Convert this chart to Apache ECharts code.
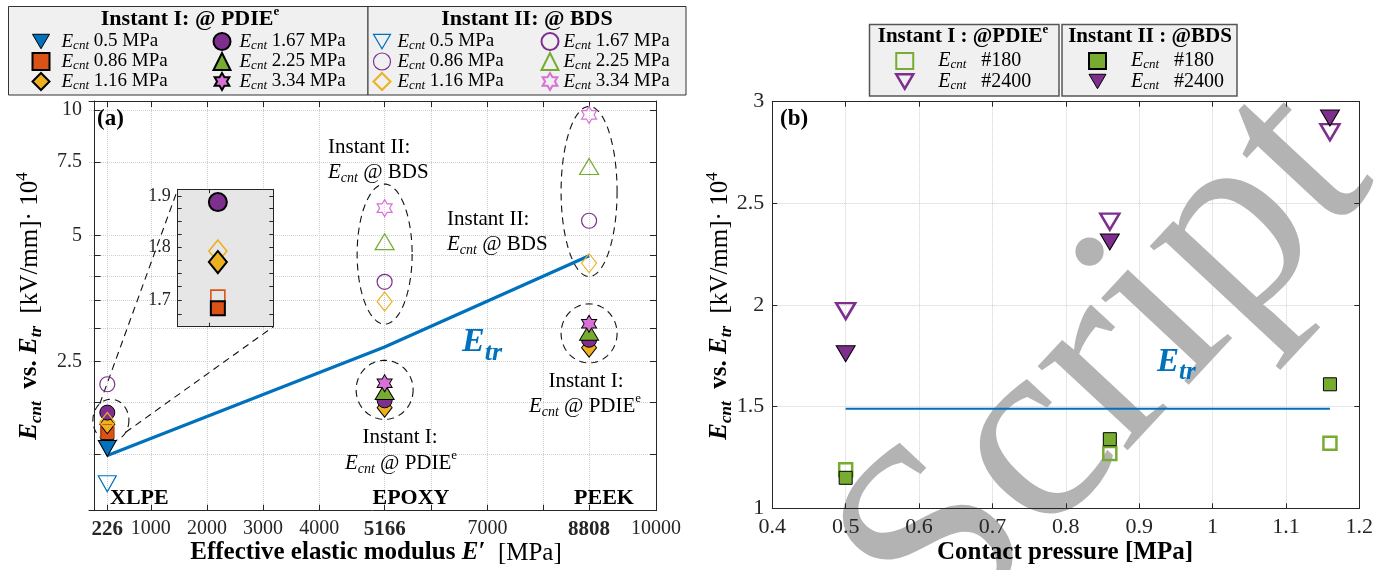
<!DOCTYPE html>
<html>
<head>
<meta charset="utf-8">
<title>Contact field vs. transition field</title>
<script src="https://cdn.jsdelivr.net/npm/echarts@6/dist/echarts.min.js"></script>
<style>
html, body { margin: 0; padding: 0; background: #ffffff; }
#chart { width: 1389px; height: 570px; }
</style>
</head>
<body>
<div id="chart"></div>
<script>
// ---------------- data ----------------
// (a) insulation materials and their effective elastic modulus E' [MPa]
const materials = ['XLPE', 'EPOXY', 'PEEK'];
const modulus = [226, 5166, 8808];
// transition field E_tr per material [kV/mm · 10^4]
const etrA = [1.49, 2.71, 4.48];
// contact pressures [MPa] of the legend entries
const pressures = ['0.5', '0.86', '1.16', '1.67', '2.25', '3.34'];
// Instant I (@ PDIE^e): E_cnt per material, null where not tested
const inst1_050 = [1.55, null, null];
const inst1_086 = [1.686, null, null];
const inst1_116 = [1.771, 1.94, 2.70];
const inst1_167 = [1.888, 2.02, 2.82];
const inst1_225 = [null, 2.12, 2.94];
const inst1_334 = [null, 2.22, 3.08];
// Instant II (@ BDS)
const inst2_050 = [1.276, null, null];
const inst2_086 = [1.706, null, null];
const inst2_116 = [1.792, 3.48, 4.30];
const inst2_167 = [2.207, 3.88, 5.43];
const inst2_225 = [null, 4.84, 7.32];
const inst2_334 = [null, 5.82, 9.73];
// ticks of (a)
const xTicksA = [226, 1000, 2000, 3000, 4000, 5166, 6000, 7000, 8000, 8808, 10000];
const xLabelsA = [226, 1000, 2000, 3000, 4000, 5166, 7000, 8808, 10000];
const xBoldA = [226, 5166, 8808];
const yTicksA = [1.5, 2, 2.5, 3, 3.5, 4, 4.5, 5, 7.5, 10];
const yLabelsA = [2.5, 5, 7.5, 10];
// ticks of the zoomed XLPE view
const yTicksZoom = [1.675, 1.7, 1.725, 1.75, 1.775, 1.8, 1.825, 1.85, 1.875, 1.9];
const yLabelsZoom = [1.7, 1.8, 1.9];

// (b) XLPE: E_cnt versus contact pressure [MPa]
const pressuresB = [0.5, 0.86, 1.16];
const b1_180 = [1.19, 1.27, 1.32];   // Instant I, #180
const b1_2400 = [1.97, 2.41, 2.85];  // Instant I, #2400
const b2_180 = [1.15, 1.34, 1.61];   // Instant II, #180
const b2_2400 = [1.76, 2.31, 2.92];  // Instant II, #2400
const etrB = 1.49;

// ---------------- styling ----------------
const SERIF = '"Liberation Serif", "DejaVu Serif", serif';
const INK = '#262626';
const C = { blue: '#0072BD', orange: '#D95319', yellow: '#EDB120', purple: '#7E2F8E', green: '#77AC30', pink: '#D870D8' };
const CLEAR = 'rgba(0,0,0,0)';
const GRID_LINE = { show: true, lineStyle: { type: 'dotted', color: '#cfcfcf', width: 1 } };
const DOWN_TRI = 'path://M0 0 L20 0 L10 17 Z';

// axis ranges
const A_X = [-100, 10000], A_Y = [1.1, 10.5];
const B_X = [0.4, 1.2], B_Y = [1, 3];
const Z_X = [100, 400], Z_Y = [1.653, 1.914];
const INSET = { left: 177.7, top: 189.3, width: 95.6, height: 137.4 };

// six-pointed star outline
function hexagram() {
  const p = [];
  for (let k = 0; k < 12; k++) {
    const r = k % 2 === 0 ? 1 : 0.5774;
    const a = (-90 + k * 30) * Math.PI / 180;
    p.push((r * Math.cos(a)).toFixed(4) + ' ' + (r * Math.sin(a)).toFixed(4));
  }
  return 'path://M' + p.join(' L') + ' Z';
}
const HEX = hexagram();

const markers = [
  { symbol: 'triangle', rotate: 180, size: [18, 16], zsize: [18, 16], color: C.blue },
  { symbol: 'rect', size: 13, zsize: 14, color: C.orange },
  { symbol: 'diamond', size: [15, 19], zsize: [18, 22], color: C.yellow },
  { symbol: 'circle', size: 15, zsize: 18, color: C.purple },
  { symbol: 'triangle', size: [19, 16], zsize: [19, 16], color: C.green },
  { symbol: HEX, size: [15, 17], zsize: [15, 17], color: C.pink }
];
const inst1 = [inst1_050, inst1_086, inst1_116, inst1_167, inst1_225, inst1_334];
const inst2 = [inst2_050, inst2_086, inst2_116, inst2_167, inst2_225, inst2_334];

function markerStyle(m, filled, zoomed) {
  return filled
    ? { color: m.color, borderColor: '#000', borderWidth: zoomed ? 2 : 1, opacity: 1 }
    : { color: CLEAR, borderColor: m.color, borderWidth: zoomed ? 1.6 : 1.2, opacity: 1 };
}

function scatterA(kind, idx, values) {
  const m = markers[idx];
  return {
    name: kind + ' ' + pressures[idx], type: 'scatter', xAxisIndex: 0, yAxisIndex: 0,
    data: modulus.map((x, i) => [x, values[i]]).filter(d => d[1] !== null),
    symbol: m.symbol, symbolSize: m.size, symbolRotate: m.rotate || 0,
    itemStyle: markerStyle(m, kind === 'I', false), z: 3, silent: true
  };
}

function scatterZoom(kind, idx, values) {
  const m = markers[idx];
  const v = values[0];
  const inRange = v !== null && v >= Z_Y[0] && v <= Z_Y[1];
  return {
    name: 'zoom ' + kind + ' ' + pressures[idx], type: 'scatter', xAxisIndex: 4, yAxisIndex: 5,
    data: inRange ? [[modulus[0], v]] : [],
    symbol: m.symbol, symbolSize: m.zsize, symbolRotate: m.rotate || 0,
    itemStyle: markerStyle(m, kind === 'I', true), z: 4, silent: true
  };
}

// dashed call-out ellipses (centre in data units, radii in px)
const calloutCenters = [[290, 1.81], [5166, 4.52], [5166, 2.14], [8808, 6.38], [8808, 2.92]];
const calloutRadii = [[18, 21], [27.5, 70], [28.5, 29.5], [28, 85], [28, 29.5]];

const lg = Math.log10;
function guideLabel(labels) {
  return v => {
    const t = labels.find(l => Math.abs(lg(l) - v) < 1e-6);
    return t === undefined ? '' : String(t);
  };
}
function logGuideAxis(grid, range, ticks, labels, position, fontSize, split, z, tickLen) {
  return {
    type: 'value', gridIndex: grid, position, min: lg(range[0]), max: lg(range[1]), z: z || 0,
    axisLine: { show: true, lineStyle: { color: INK, width: 1 } },
    axisTick: { show: true, inside: true, length: tickLen || 6, customValues: ticks.map(lg), lineStyle: { color: INK } },
    axisLabel: labels ? {
      show: true, customValues: labels.map(lg), formatter: guideLabel(labels), margin: 7,
      fontFamily: SERIF, fontSize: fontSize, color: INK
    } : { show: false },
    splitLine: split ? GRID_LINE : { show: false }
  };
}

// legend helpers
function legendText(name) {
  const parts = name.split(' ');
  const tail = parts[parts.length - 1];
  const v = tail.charAt(0) === '#' ? '   ' + tail : ' ' + tail + ' MPa';
  return '{e|E}{s|cnt}{v|' + v + '}';
}
function legendCol(data, left, top, pad, h, size, iw, ih) {
  return {
    data, orient: 'vertical', left, top, padding: 0, itemGap: 0,
    itemWidth: iw || 17, itemHeight: ih || 17, selectedMode: false, z: 6,
    formatter: legendText,
    textStyle: {
      fontFamily: SERIF, fontSize: size, color: '#000',
      rich: {
        e: { fontFamily: SERIF, fontSize: size, fontStyle: 'italic', color: '#000', lineHeight: h, padding: [0, 0, 0, pad] },
        s: { fontFamily: SERIF, fontSize: Math.round(size * 0.66), fontStyle: 'italic', color: '#000', lineHeight: 10, verticalAlign: 'bottom' },
        v: { fontFamily: SERIF, fontSize: size, color: '#000', lineHeight: h }
      }
    }
  };
}
function downIcon(name, style) {
  return { name, icon: DOWN_TRI, itemStyle: style };
}

// rich text styles for free-standing labels
function richSet(size, bold) {
  const w = bold ? 'bold' : 'normal';
  return {
    n: { fontFamily: SERIF, fontSize: size, fontWeight: w, fill: '#000', lineHeight: size + 6 },
    i: { fontFamily: SERIF, fontSize: size, fontWeight: w, fontStyle: 'italic', fill: '#000', lineHeight: size + 6 },
    s: { fontFamily: SERIF, fontSize: Math.round(size * 0.68), fontWeight: w, fontStyle: 'italic', fill: '#000', lineHeight: Math.round(size * 0.68), verticalAlign: 'bottom' },
    u: { fontFamily: SERIF, fontSize: Math.round(size * 0.6), fontWeight: w, fill: '#000', lineHeight: Math.round(size * 0.6), verticalAlign: 'top' },
    r: { fontFamily: SERIF, fontSize: size, fontWeight: 'normal', fill: '#000', lineHeight: size + 6 },
    ru: { fontFamily: SERIF, fontSize: Math.round(size * 0.68), fontWeight: 'normal', fill: '#000', lineHeight: Math.round(size * 0.68), verticalAlign: 'top' }
  };
}
function label(x, y, text, size, bold, align, extra) {
  return Object.assign({
    type: 'text', x, y, z: 7, silent: true,
    style: {
      text, rich: richSet(size, bold), fill: '#000',
      font: (bold ? 'bold ' : '') + size + 'px ' + SERIF,
      align: align || 'left', textAlign: align || 'left',
      verticalAlign: 'middle', textVerticalAlign: 'middle'
    }
  }, extra || {});
}
function etrLabel(x, y, eSize, tSize) {
  return {
    type: 'text', x, y, z: 7, silent: true,
    style: {
      text: '{E|E}{t|tr}', align: 'left', verticalAlign: 'middle', textAlign: 'left', textVerticalAlign: 'middle',
      rich: {
        E: { fontFamily: SERIF, fontSize: eSize, fontWeight: 'bold', fontStyle: 'italic', fill: C.blue, lineHeight: eSize + 14 },
        t: { fontFamily: SERIF, fontSize: tSize, fontWeight: 'bold', fontStyle: 'italic', fill: C.blue, lineHeight: tSize, verticalAlign: 'bottom' }
      }
    }
  };
}

const yTitle = '{i|E}{s|cnt}{n|  vs. }{i|E}{s|tr}{r|  [kV/mm]· 10}{ru|4}';

const graphics = [
  // watermark lettering behind panel (b)
  {
    type: 'text', x: 1108, y: 368, rotation: 47 * Math.PI / 180, z: 1, silent: true,
    style: { text: 'Script', font: '268px ' + SERIF, fill: '#b3b3b3', align: 'center', verticalAlign: 'middle', textAlign: 'center', textVerticalAlign: 'middle' }
  },
  // legend frames of (a)
  { type: 'rect', z: 5, silent: true, shape: { x: 8.5, y: 6.5, width: 359.5, height: 88.5 }, style: { fill: '#f0f0f0', stroke: '#333', lineWidth: 1 } },
  { type: 'rect', z: 5, silent: true, shape: { x: 368, y: 6.5, width: 318, height: 88.5 }, style: { fill: '#f0f0f0', stroke: '#333', lineWidth: 1 } },
  label(190, 19, '{n|Instant I: @ PDIE}{u|e}', 22, true, 'center'),
  label(527, 19, '{n|Instant II: @ BDS}', 22, true, 'center'),
  // legend frames of (b)
  { type: 'rect', z: 5, silent: true, shape: { x: 869.5, y: 24.5, width: 189.5, height: 71.5 }, style: { fill: '#f0f0f0', stroke: '#555', lineWidth: 1.5 } },
  { type: 'rect', z: 5, silent: true, shape: { x: 1062, y: 24.5, width: 175, height: 71.5 }, style: { fill: '#f0f0f0', stroke: '#555', lineWidth: 1.5 } },
  label(963, 37, '{n|Instant I : @PDIE}{u|e}', 21, true, 'center'),
  label(1150, 37, '{n|Instant II : @BDS}', 21, true, 'center'),
  // panel tags
  label(97, 119, '{n|(a)}', 23, true, 'left'),
  label(780, 119, '{n|(b)}', 23, true, 'left'),
  // annotations of (a)
  label(328, 147, '{n|Instant II:}', 21, false, 'left'),
  label(328, 172, '{i|E}{s|cnt}{n| @ BDS}', 21, false, 'left'),
  label(447, 219, '{n|Instant II:}', 21, false, 'left'),
  label(447, 244, '{i|E}{s|cnt}{n| @ BDS}', 21, false, 'left'),
  label(400, 437, '{n|Instant I:}', 21, false, 'center'),
  label(401, 463, '{i|E}{s|cnt}{n| @ PDIE}{u|e}', 21, false, 'center'),
  label(586, 381, '{n|Instant I:}', 21, false, 'center'),
  label(585, 406, '{i|E}{s|cnt}{n| @ PDIE}{u|e}', 21, false, 'center'),
  label(110, 498, '{n|XLPE}', 22, true, 'left'),
  label(411, 498, '{n|EPOXY}', 22, true, 'center'),
  label(604, 498, '{n|PEEK}', 22, true, 'center'),
  etrLabel(462, 342, 34, 26),
  etrLabel(1157, 362, 33, 25),
  // axis titles
  label(376, 553, '{n|Effective elastic modulus }{i|E′}{r|  [MPa]}', 25, true, 'center'),
  label(1065, 553, '{n|Contact pressure [MPa]}', 25, true, 'center'),
  label(30, 306, yTitle, 25, true, 'center', { rotation: Math.PI / 2 }),
  label(720, 306, yTitle, 25, true, 'center', { rotation: Math.PI / 2 })
];

// ---------------- series ----------------
const series = [];
// E_tr of the three materials
series.push({
  name: 'E_tr', type: 'line', xAxisIndex: 0, yAxisIndex: 0, silent: true,
  data: modulus.map((x, i) => [x, etrA[i]]), showSymbol: false, symbol: 'none',
  lineStyle: { color: C.blue, width: 3.2 }, z: 2
});
for (let k = 0; k < pressures.length; k++) series.push(scatterA('I', k, inst1[k]));
for (let k = 0; k < pressures.length; k++) series.push(scatterA('II', k, inst2[k]));
// call-out ellipses and leader lines to the zoomed XLPE view
series.push({
  type: 'custom', xAxisIndex: 0, yAxisIndex: 0, silent: true, z: 2,
  data: calloutCenters,
  renderItem(params, api) {
    const c = api.coord([api.value(0), api.value(1)]);
    const r = calloutRadii[params.dataIndex];
    const pts = [];
    for (let k = 0; k <= 120; k++) {
      const t = k / 120 * 2 * Math.PI;
      pts.push([c[0] + r[0] * Math.cos(t), c[1] + r[1] * Math.sin(t)]);
    }
    const dash = { stroke: '#111', lineWidth: 1.1, lineDash: [7, 5], fill: 'none' };
    const children = [{ type: 'polyline', shape: { points: pts }, style: dash }];
    if (params.dataIndex === 0) {
      const a1 = 232 * Math.PI / 180, a2 = 35 * Math.PI / 180;
      children.push({ type: 'line', shape: { x1: c[0] + r[0] * Math.cos(a1), y1: c[1] + r[1] * Math.sin(a1), x2: INSET.left, y2: INSET.top }, style: dash });
      children.push({ type: 'line', shape: { x1: c[0] + r[0] * Math.cos(a2), y1: c[1] + r[1] * Math.sin(a2), x2: INSET.left + INSET.width, y2: INSET.top + INSET.height }, style: dash });
    }
    return { type: 'group', children };
  }
});
// zoomed XLPE view
for (let k = 0; k < pressures.length; k++) series.push(scatterZoom('II', k, inst2[k]));
for (let k = 0; k < pressures.length; k++) series.push(scatterZoom('I', k, inst1[k]));

// (b)
series.push({
  name: 'E_tr (b)', type: 'line', xAxisIndex: 2, yAxisIndex: 3, silent: true,
  data: [[pressuresB[0], etrB], [pressuresB[pressuresB.length - 1], etrB]],
  showSymbol: false, symbol: 'none', lineStyle: { color: C.blue, width: 2 }, z: 2
});
function scatterB(name, values, symbol, size, rotate, style) {
  return {
    name, type: 'scatter', xAxisIndex: 2, yAxisIndex: 3, silent: true, z: 3,
    data: pressuresB.map((x, i) => [x, values[i]]),
    symbol, symbolSize: size, symbolRotate: rotate, itemStyle: style
  };
}
const bOpenSq = { color: CLEAR, borderColor: C.green, borderWidth: 2.5, opacity: 1 };
const bOpenTri = { color: CLEAR, borderColor: C.purple, borderWidth: 2.5, opacity: 1 };
const bFillSq = { color: C.green, borderColor: '#000', borderWidth: 1, opacity: 1 };
const bFillTri = { color: C.purple, borderColor: '#000', borderWidth: 1, opacity: 1 };
series.push(scatterB('bI #180', b1_180, 'rect', 13, 0, bOpenSq));
series.push(scatterB('bI #2400', b1_2400, 'triangle', [19, 16], 180, bOpenTri));
series.push(scatterB('bII #180', b2_180, 'rect', 13, 0, bFillSq));
series.push(scatterB('bII #2400', b2_2400, 'triangle', [19, 16], 180, bFillTri));

// ---------------- axes ----------------
const tickFont = { fontFamily: SERIF, color: INK };
const xAxis = [
  { // 0: (a) bottom
    type: 'value', gridIndex: 0, position: 'bottom', min: A_X[0], max: A_X[1],
    axisLine: { lineStyle: { color: INK } },
    axisTick: { inside: true, length: 6, customValues: xTicksA, lineStyle: { color: INK } },
    axisLabel: Object.assign({
      customValues: xLabelsA, fontSize: 20, margin: 8,
      formatter: v => xBoldA.indexOf(v) >= 0 ? '{b|' + v + '}' : String(v),
      rich: { b: { fontFamily: SERIF, fontSize: 21, fontWeight: 'bold', color: INK } }
    }, tickFont),
    splitLine: GRID_LINE
  },
  { // 1: (a) top mirror
    type: 'value', gridIndex: 0, position: 'top', min: A_X[0], max: A_X[1],
    axisLine: { lineStyle: { color: INK } },
    axisTick: { inside: true, length: 6, customValues: xTicksA, lineStyle: { color: INK } },
    axisLabel: { show: false }, splitLine: { show: false }
  },
  { // 2: (b) bottom
    type: 'value', gridIndex: 1, position: 'bottom', min: B_X[0], max: B_X[1], interval: 0.1, z: 3,
    axisLine: { lineStyle: { color: INK } },
    axisTick: { inside: true, length: 5, lineStyle: { color: INK } },
    axisLabel: Object.assign({ fontSize: 22, margin: 8, formatter: v => String(+v.toFixed(1)) }, tickFont),
    splitLine: { show: false }
  },
  { // 3: (b) top mirror
    type: 'value', gridIndex: 1, position: 'top', min: B_X[0], max: B_X[1], interval: 0.1, z: 3,
    axisLine: { lineStyle: { color: INK } },
    axisTick: { inside: true, length: 5, lineStyle: { color: INK } },
    axisLabel: { show: false }, splitLine: { show: false }
  },
  { // 4: zoom bottom
    type: 'value', gridIndex: 2, position: 'bottom', min: Z_X[0], max: Z_X[1], z: 2,
    axisLine: { lineStyle: { color: INK } },
    axisTick: { inside: true, length: 4, customValues: [200], lineStyle: { color: INK } },
    axisLabel: { show: false }, splitLine: { show: false }
  },
  { // 5: zoom top
    type: 'value', gridIndex: 2, position: 'top', min: Z_X[0], max: Z_X[1], z: 2,
    axisLine: { lineStyle: { color: INK } },
    axisTick: { inside: true, length: 4, customValues: [200], lineStyle: { color: INK } },
    axisLabel: { show: false }, splitLine: { show: false }
  },
  { // 6: (b) vertical grid lines
    type: 'value', gridIndex: 1, position: 'bottom', min: B_X[0], max: B_X[1], interval: 0.1, z: 0,
    axisLine: { show: false }, axisTick: { show: false }, axisLabel: { show: false }, splitLine: GRID_LINE
  }
];
const yAxis = [
  // 0: (a) logarithmic data axis
  { type: 'log', logBase: 10, gridIndex: 0, min: A_Y[0], max: A_Y[1], show: false },
  // 1, 2: (a) tick guides
  logGuideAxis(0, A_Y, yTicksA, yLabelsA, 'left', 20, true, 0, 6),
  logGuideAxis(0, A_Y, yTicksA, null, 'right', 20, false, 0, 6),
  { // 3: (b) left
    type: 'value', gridIndex: 1, position: 'left', min: B_Y[0], max: B_Y[1], interval: 0.5, z: 3,
    axisLine: { show: true, lineStyle: { color: INK } },
    axisTick: { show: true, inside: true, length: 5, lineStyle: { color: INK } },
    axisLabel: Object.assign({ fontSize: 22, margin: 8 }, tickFont),
    splitLine: { show: false }
  },
  { // 4: (b) right mirror
    type: 'value', gridIndex: 1, position: 'right', min: B_Y[0], max: B_Y[1], interval: 0.5, z: 3,
    axisLine: { show: true, lineStyle: { color: INK } },
    axisTick: { show: true, inside: true, length: 5, lineStyle: { color: INK } },
    axisLabel: { show: false }, splitLine: { show: false }
  },
  // 5: zoom logarithmic data axis
  { type: 'log', logBase: 10, gridIndex: 2, min: Z_Y[0], max: Z_Y[1], show: false },
  // 6, 7: zoom tick guides
  logGuideAxis(2, Z_Y, yTicksZoom, yLabelsZoom, 'left', 18, false, 2, 4),
  logGuideAxis(2, Z_Y, yTicksZoom, null, 'right', 18, false, 2, 4),
  { // 8: (b) horizontal grid lines
    type: 'value', gridIndex: 1, position: 'left', min: B_Y[0], max: B_Y[1], interval: 0.5, z: 0,
    axisLine: { show: false }, axisTick: { show: false }, axisLabel: { show: false }, splitLine: GRID_LINE
  }
];

const open = c => ({ color: CLEAR, borderColor: c, borderWidth: 1.2, opacity: 1 });
const filled = c => ({ color: c, borderColor: '#000', borderWidth: 1, opacity: 1 });

const option = {
  animation: false,
  backgroundColor: '#ffffff',
  grid: [
    { left: 89, top: 101, width: 567, height: 409.7, show: false },
    { left: 772.3, top: 101.7, width: 587, height: 406.6, show: false },
    { left: INSET.left, top: INSET.top, width: INSET.width, height: INSET.height, show: true, backgroundColor: '#e6e6e6', borderWidth: 0, z: 1 }
  ],
  xAxis, yAxis, series,
  legend: [
    legendCol([downIcon('I 0.5', filled(C.blue)), 'I 0.86', 'I 1.16'], 31.5, 32, 7, 21, 19),
    legendCol(['I 1.67', 'I 2.25', 'I 3.34'], 212.5, 32, 4, 21, 19),
    legendCol([downIcon('II 0.5', open(C.blue)), { name: 'II 0.86', icon: 'circle', itemStyle: open(C.purple) }, 'II 1.16'], 372.5, 32, 2, 21, 19),
    legendCol(['II 1.67', 'II 2.25', 'II 3.34'], 540.5, 32, 0, 21, 19),
    legendCol(['bI #180', downIcon('bI #2400', { color: CLEAR, borderColor: C.purple, borderWidth: 2.5, opacity: 1 })], 895, 51, 20, 21, 20, 17, 16),
    legendCol(['bII #180', downIcon('bII #2400', filled(C.purple))], 1088, 51, 20, 21, 20, 17, 16)
  ],
  graphic: graphics
};

const chart = echarts.init(document.getElementById('chart'), null, { renderer: 'canvas' });
chart.setOption(option);
</script>
</body>
</html>
